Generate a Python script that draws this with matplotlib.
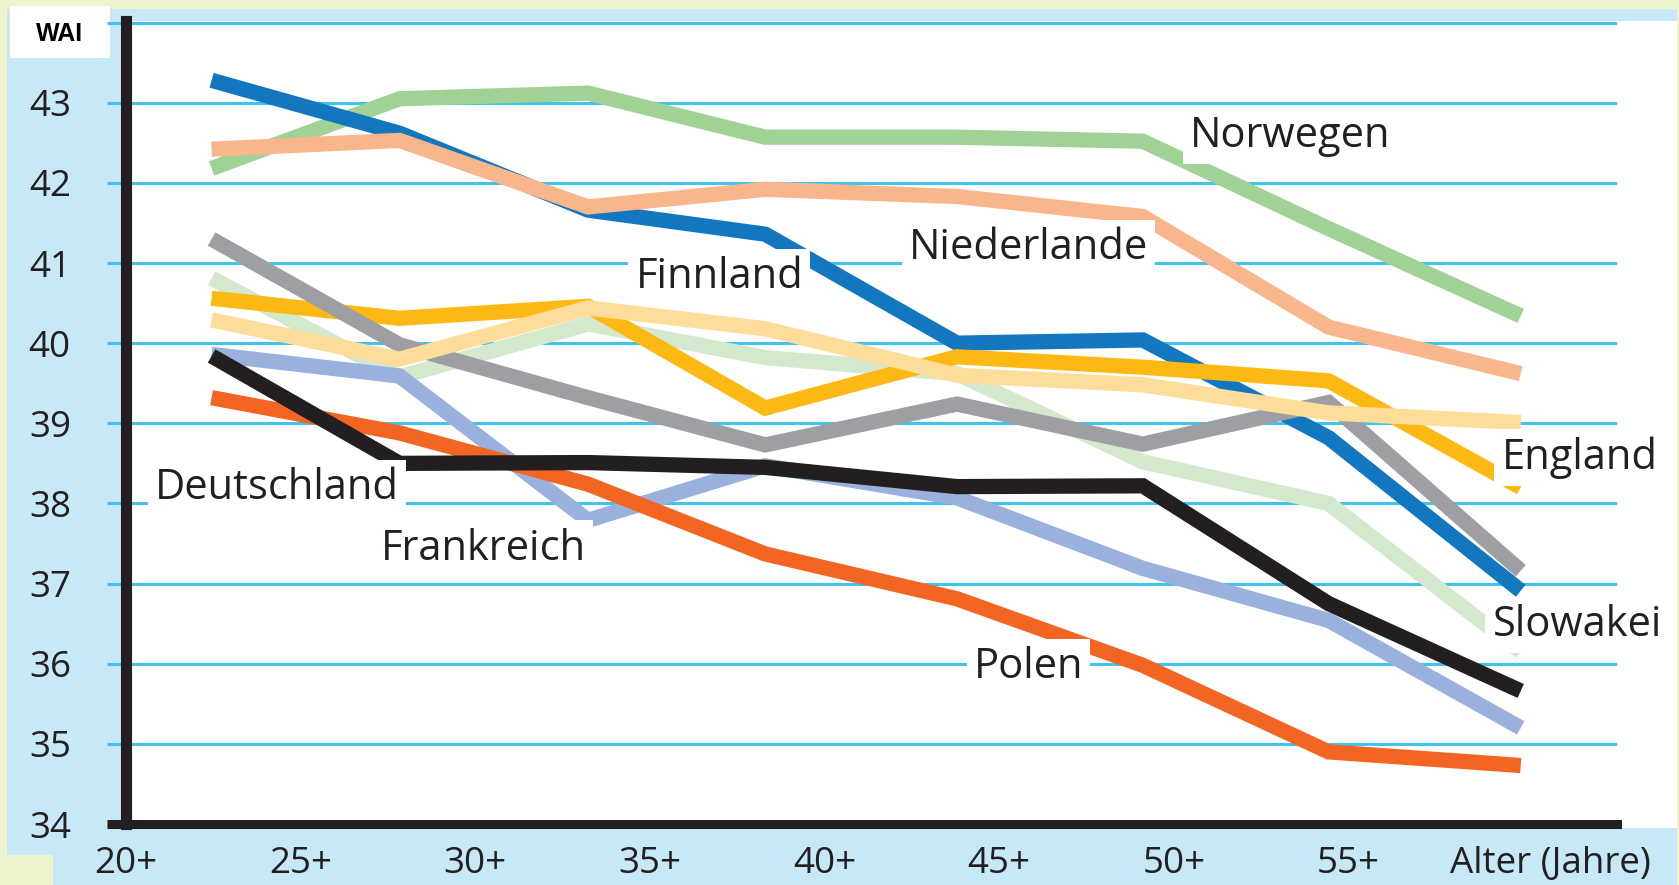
import matplotlib
matplotlib.use("Agg")
import matplotlib.pyplot as plt
from matplotlib.patches import Rectangle

plt.rcParams['font.family'] = ['Open Sans', 'DejaVu Sans']

# Altersgruppen (Lage der Punkte auf der Altersachse)
alter = [22.45, 27.83, 33.23, 38.30, 43.79, 49.11, 54.43, 59.93]
x_ticks = [20, 25, 30, 35, 40, 45, 50, 55, 60.78]
x_labels = ['20+', '25+', '30+', '35+', '40+', '45+', '50+', '55+', 'Alter (Jahre)']
y_ticks = [34, 35, 36, 37, 38, 39, 40, 41, 42, 43, 44]
y_labels = ['34', '35', '36', '37', '38', '39', '40', '41', '42', '43', '']

# WAI-Werte je Land
wai_slowakei = [40.81, 39.58, 40.24, 39.82, 39.62, 38.52, 38.00, 36.15]
wai_norwegen = [42.18, 43.05, 43.12, 42.57, 42.57, 42.52, 41.43, 40.34]
wai_finnland = [43.28, 42.62, 41.66, 41.36, 40.00, 40.04, 38.82, 36.91]
wai_niederlande = [42.42, 42.53, 41.70, 41.92, 41.83, 41.58, 40.20, 39.62]
wai_england = [40.56, 40.31, 40.46, 39.19, 39.83, 39.70, 39.53, 38.20]
wai_grau = [41.30, 39.98, 39.32, 38.73, 39.24, 38.74, 39.26, 37.16]
wai_hellorange = [40.29, 39.80, 40.44, 40.18, 39.60, 39.48, 39.13, 39.01]
wai_frankreich = [39.86, 39.59, 37.79, 38.47, 38.07, 37.19, 36.54, 35.20]
wai_polen = [39.32, 38.88, 38.24, 37.37, 36.81, 35.98, 34.90, 34.73]
wai_deutschland = [39.84, 38.50, 38.51, 38.45, 38.21, 38.22, 36.75, 35.66]

serien = [
    (wai_slowakei, '#D3E8CD'),
    (wai_norwegen, '#A0D195'),
    (wai_finnland, '#1277BE'),
    (wai_niederlande, '#F9B68D'),
    (wai_england, '#FDB913'),
    (wai_grau, '#9D9FA2'),
    (wai_hellorange, '#FEDC99'),
    (wai_frankreich, '#99B1DC'),
    (wai_polen, '#F26522'),
    (wai_deutschland, '#231F20'),
]

W, H = 1679, 885
GELB = '#EFF3CB'
HELLBLAU = '#C6E8F7'
CYAN = '#3FC3F0'
TEXT = '#231F20'

fig = plt.figure(figsize=(W / 100, H / 100), dpi=100, facecolor=GELB)


def rect(x0, y0, x1, y1, color, z=-2):
    # Rechteck in Pixeln (von oben links) auf der Figur
    r = Rectangle((x0 / W, 1 - y1 / H), (x1 - x0) / W, (y1 - y0) / H,
                  transform=fig.transFigure, facecolor=color, edgecolor='none', zorder=z)
    fig.add_artist(r)


rect(7, 9, 126, 855, HELLBLAU)
rect(7, 9, 1677, 21, HELLBLAU)
rect(53, 828, 1677, 885, HELLBLAU)
rect(1617, 21, 1677, 828, 'white')
rect(10, 6, 110, 58, 'white', z=-1)
fig.text(60 / W, 1 - 34 / H, 'WAI', family='Liberation Sans', weight='bold',
         fontsize=18, ha='center', va='center', color='black')

ax = fig.add_axes([126 / W, (H - 824) / H, (1617 - 126) / W, (824 - 21) / H])
ax.set_facecolor('white')

for i, (werte, farbe) in enumerate(serien):
    ax.plot(alter, werte, color=farbe, lw=11, solid_capstyle='butt',
            solid_joinstyle='miter', zorder=3 + i * 0.1)

ax.set_xlim(20 + (126 - 117) / 35.14, 20 + (1617 - 117) / 35.14)
ax.set_ylim(34, 44.02)

ax.set_yticks(y_ticks)
ax.set_yticklabels(y_labels)
ax.set_xticks(x_ticks)
ax.set_xticklabels(x_labels)
ax.grid(axis='y', color=CYAN, lw=2.2)
ax.tick_params(axis='y', length=13.7, width=2.2, color=CYAN, pad=26,
               labelsize=26.5, labelcolor=TEXT)
ax.tick_params(axis='x', length=0, pad=16, labelsize=26.5, labelcolor=TEXT)
t0 = ax.yaxis.get_major_ticks()[0]
t0.tick1line.set_markeredgecolor(TEXT)
t0.tick1line.set_markeredgewidth(6.5)
t0.gridline.set_visible(False)

for s in ['top', 'right']:
    ax.spines[s].set_visible(False)
ax.spines['left'].set_linewidth(8)
ax.spines['left'].set_color(TEXT)
ax.spines['bottom'].set_linewidth(6.5)
ax.spines['bottom'].set_color(TEXT)

# Beschriftungen der Länder (Mitte x, Grundlinie y)
beschriftung = [
    ('Norwegen', 53.32, 42.45),
    ('Niederlande', 45.84, 41.05),
    ('Finnland', 36.99, 40.69),
    ('Deutschland', 24.33, 38.06),
    ('Frankreich', 30.22, 37.30),
    ('Polen', 45.84, 35.82),
    ('England', 61.61, 38.43),
    ('Slowakei', 61.55, 36.35),
]
for name, bx, by in beschriftung:
    ax.text(bx, by, name, fontsize=30, color=TEXT, ha='center', va='baseline',
            zorder=10, clip_on=False,
            bbox=dict(facecolor='white', edgecolor='none', pad=5))

fig.savefig('out.png', dpi=100, facecolor=GELB)
